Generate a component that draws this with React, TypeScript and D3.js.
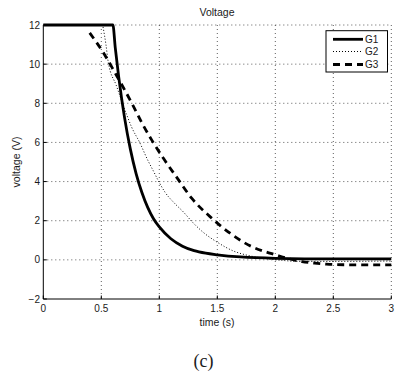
import React from "react";
import * as d3 from "d3";

const xTicks = [0, 0.5, 1, 1.5, 2, 2.5, 3];
const yTicks = [-2, 0, 2, 4, 6, 8, 10, 12];

const g1Time = [0, 0.6, 0.62, 0.65, 0.7, 0.75, 0.8, 0.85, 0.9, 0.95, 1.0, 1.1, 1.2, 1.3, 1.4, 1.5, 1.7, 2.0, 2.5, 3.0];
const g1Volt = [12, 12, 10.86, 9.35, 7.28, 5.67, 4.41, 3.44, 2.68, 2.1, 1.68, 1.08, 0.7, 0.47, 0.34, 0.26, 0.15, 0.08, 0.05, 0.05];

const g2Time = [0.515, 0.54, 0.56, 0.63, 0.72, 0.76, 0.834, 0.9, 0.948, 1.0, 1.05, 1.13, 1.207, 1.29, 1.38, 1.5, 1.64, 1.77, 1.9, 2.05, 2.2, 2.5, 3.0];
const g2Volt = [11.9, 11.0, 10.1, 8.9, 7.4, 6.8, 5.96, 5.1, 4.55, 3.95, 3.45, 2.9, 2.45, 1.9, 1.4, 0.9, 0.45, 0.22, 0.08, -0.02, -0.08, -0.08, -0.06];

const g3Time = [0.4, 0.53, 0.62, 0.7, 0.776, 0.85, 0.934, 1.034, 1.164, 1.279, 1.437, 1.61, 1.796, 1.91, 2.0, 2.1, 2.23, 2.33, 2.44, 2.6, 3.0];
const g3Volt = [11.6, 10.47, 9.54, 8.7, 7.85, 7.0, 6.13, 5.2, 4.1, 3.15, 2.21, 1.36, 0.68, 0.42, 0.26, 0.08, -0.09, -0.16, -0.22, -0.25, -0.26];

const seriesNames = ["G1", "G2", "G3"];

const W = 396;
const H = 377;
const M = { left: 43.3, right: 391.3, top: 25, bottom: 299 };
const FONT = "'Liberation Sans', Arial, Helvetica, sans-serif";
const TXT = "#1a1a1a";

export default function App() {
  const x = d3.scaleLinear().domain([0, 3]).range([M.left, M.right]);
  const y = d3.scaleLinear().domain([-2, 12]).range([M.bottom, M.top]);

  const mk = (ts: number[], vs: number[]) =>
    d3
      .line<number>()
      .x((_, i) => x(ts[i]))
      .y((v) => y(v))
      .curve(d3.curveMonotoneX)(vs) || "";

  const styles = [
    { w: 2.8, dash: undefined as string | undefined },
    { w: 1, dash: "1,2" },
    { w: 2.8, dash: "7,5" },
  ];
  const paths = [mk(g1Time, g1Volt), mk(g2Time, g2Volt), mk(g3Time, g3Volt)];

  const lg = { x0: 326, x1: 387.5, y0: 30.7, y1: 72 };
  const lgRows = [39.3, 51.5, 64.5];

  return (
    <svg
      width={W}
      height={H}
      style={{ position: "absolute", left: 0, top: 0, background: "#fff" }}
      fontFamily={FONT}
    >
      <rect x={0} y={0} width={W} height={H} fill="#fff" />
      {xTicks.filter((t) => t > 0).map((t) => (
        <line
          key={"gx" + t}
          x1={x(t)}
          x2={x(t)}
          y1={M.top}
          y2={M.bottom}
          stroke="#333"
          strokeWidth={0.8}
          strokeDasharray="1,3"
        />
      ))}
      {yTicks.filter((t) => t > -2).map((t) => (
        <line
          key={"gy" + t}
          x1={M.left}
          x2={M.right}
          y1={y(t)}
          y2={y(t)}
          stroke="#333"
          strokeWidth={0.8}
          strokeDasharray="1,3"
        />
      ))}
      {paths.map((p, i) => (
        <path
          key={"s" + i}
          d={p}
          fill="none"
          stroke="#000"
          strokeWidth={styles[i].w}
          strokeDasharray={styles[i].dash}
        />
      ))}
      <line x1={M.left} x2={M.left} y1={M.top} y2={M.bottom} stroke="#000" strokeWidth={1} />
      <line x1={M.left} x2={M.right} y1={M.bottom} y2={M.bottom} stroke="#000" strokeWidth={1} />
      {xTicks.map((t) => (
        <g key={"xt" + t}>
          <line x1={x(t)} x2={x(t)} y1={M.bottom} y2={M.bottom - 3.5} stroke="#000" strokeWidth={1} />
          <text x={x(t)} y={312} textAnchor="middle" fontSize={10} fill={TXT}>
            {String(t)}
          </text>
        </g>
      ))}
      {yTicks.map((t) => (
        <g key={"yt" + t}>
          <line x1={M.left} x2={M.left + 3.5} y1={y(t)} y2={y(t)} stroke="#000" strokeWidth={1} />
          <text x={40} y={y(t) + 3.6} textAnchor="end" fontSize={10} fill={TXT}>
            {t < 0 ? "\u2212" + Math.abs(t) : String(t)}
          </text>
        </g>
      ))}
      <text x={217} y={16} textAnchor="middle" fontSize={10.5} fill={TXT}>
        Voltage
      </text>
      <text x={217} y={326} textAnchor="middle" fontSize={10.5} fill={TXT}>
        time (s)
      </text>
      <text
        transform={`translate(20,162) rotate(-90)`}
        textAnchor="middle"
        fontSize={10.5}
        fill={TXT}
      >
        voltage (V)
      </text>
      <text
        x={203.5}
        y={367}
        textAnchor="middle"
        fontSize={18}
        fontFamily="'Liberation Serif', 'DejaVu Serif', serif"
        fill={TXT}
      >
        (c)
      </text>
      <rect
        x={lg.x0}
        y={lg.y0}
        width={lg.x1 - lg.x0}
        height={lg.y1 - lg.y0}
        fill="#fff"
        stroke="#000"
        strokeWidth={1}
      />
      {seriesNames.map((n, i) => (
        <g key={"lg" + n}>
          <line
            x1={333}
            x2={363}
            y1={lgRows[i]}
            y2={lgRows[i]}
            stroke="#000"
            strokeWidth={styles[i].w}
            strokeDasharray={styles[i].dash}
          />
          <text x={365} y={lgRows[i] + 3.6} fontSize={10} fill={TXT}>
            {n}
          </text>
        </g>
      ))}
    </svg>
  );
}
